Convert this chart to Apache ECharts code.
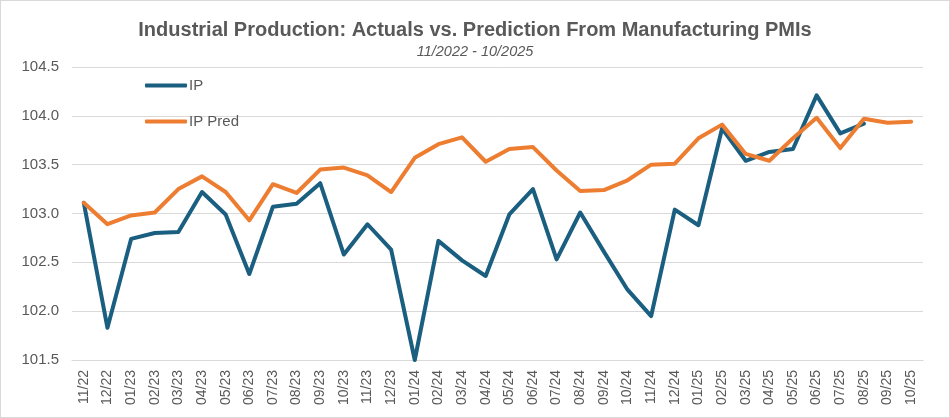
<!DOCTYPE html>
<html>
<head>
<meta charset="utf-8">
<script src="https://cdn.jsdelivr.net/npm/echarts@6/dist/echarts.min.js"></script>
<style>
html,body{margin:0;padding:0;background:#fff;}
#c{width:948px;height:416px;border:1px solid #d9d9d9;}
</style>
</head>
<body>
<div id="c"></div>
<script>
const categories = ['11/22','12/22','01/23','02/23','03/23','04/23','05/23','06/23','07/23','08/23','09/23','10/23',
  '11/23','12/23','01/24','02/24','03/24','04/24','05/24','06/24','07/24','08/24','09/24','10/24',
  '11/24','12/24','01/25','02/25','03/25','04/25','05/25','06/25','07/25','08/25','09/25','10/25'];
const ipValues = [103.11,101.83,102.74,102.80,102.81,103.22,102.99,102.38,103.07,103.10,103.31,102.58,
  102.89,102.63,101.50,102.72,102.52,102.36,102.99,103.25,102.53,103.01,102.61,102.22,
  101.95,103.04,102.88,103.87,103.54,103.63,103.66,104.21,103.82,103.92,null,null];
const ipPredValues = [103.11,102.89,102.98,103.01,103.25,103.38,103.22,102.93,103.30,103.21,103.45,103.47,
  103.39,103.22,103.57,103.71,103.78,103.53,103.66,103.68,103.44,103.23,103.24,103.34,
  103.50,103.51,103.77,103.91,103.61,103.54,103.77,103.98,103.67,103.97,103.93,103.94];
const titleText = 'Industrial Production: Actuals vs. Prediction From Manufacturing PMIs';
const subtitleText = '11/2022 - 10/2025';

const chart = echarts.init(document.getElementById('c'));
chart.setOption({
  animation: false,
  backgroundColor: '#fff',
  title: {
    text: titleText,
    subtext: subtitleText,
    left: 'center',
    top: 14,
    itemGap: 4,
    textStyle: {fontFamily: 'Liberation Sans', fontSize: 20, fontWeight: 'bold', color: '#595959'},
    subtextStyle: {fontFamily: 'Liberation Sans', fontSize: 14.5, fontStyle: 'italic', color: '#595959'}
  },
  legend: {
    orient: 'vertical',
    left: 139,
    top: 72,
    itemWidth: 42,
    itemHeight: 4,
    itemGap: 21,
    icon: 'roundRect',
    textStyle: {fontFamily: 'Liberation Sans', fontSize: 15, color: '#595959', padding: [0,0,0,-3]},
    data: ['IP','IP Pred']
  },
  grid: {left: 71, right: 26, top: 66, bottom: 57, containLabel: false},
  xAxis: {
    type: 'category',
    data: categories,
    boundaryGap: true,
    axisLine: {show: true, lineStyle: {color: '#d9d9d9'}},
    axisTick: {show: false},
    axisLabel: {interval: 0, rotate: 90, fontFamily: 'Liberation Sans', fontSize: 14, color: '#595959', margin: 10}
  },
  yAxis: {
    type: 'value',
    min: 101.5,
    max: 104.5,
    interval: 0.5,
    axisLine: {show: false},
    axisTick: {show: false},
    splitLine: {lineStyle: {color: '#d9d9d9', width: 1}},
    axisLabel: {fontFamily: 'Liberation Sans', fontSize: 15, color: '#595959', margin: 13,
      formatter: v => v.toFixed(1)}
  },
  series: [
    {name: 'IP', type: 'line', data: ipValues, symbol: 'none', color: '#1a5e80',
      lineStyle: {width: 4, color: '#1a5e80', cap: 'round', join: 'round'}},
    {name: 'IP Pred', type: 'line', data: ipPredValues, symbol: 'none', color: '#ed7d31',
      lineStyle: {width: 4, color: '#ed7d31', cap: 'round', join: 'round'}}
  ]
});
</script>
</body>
</html>
